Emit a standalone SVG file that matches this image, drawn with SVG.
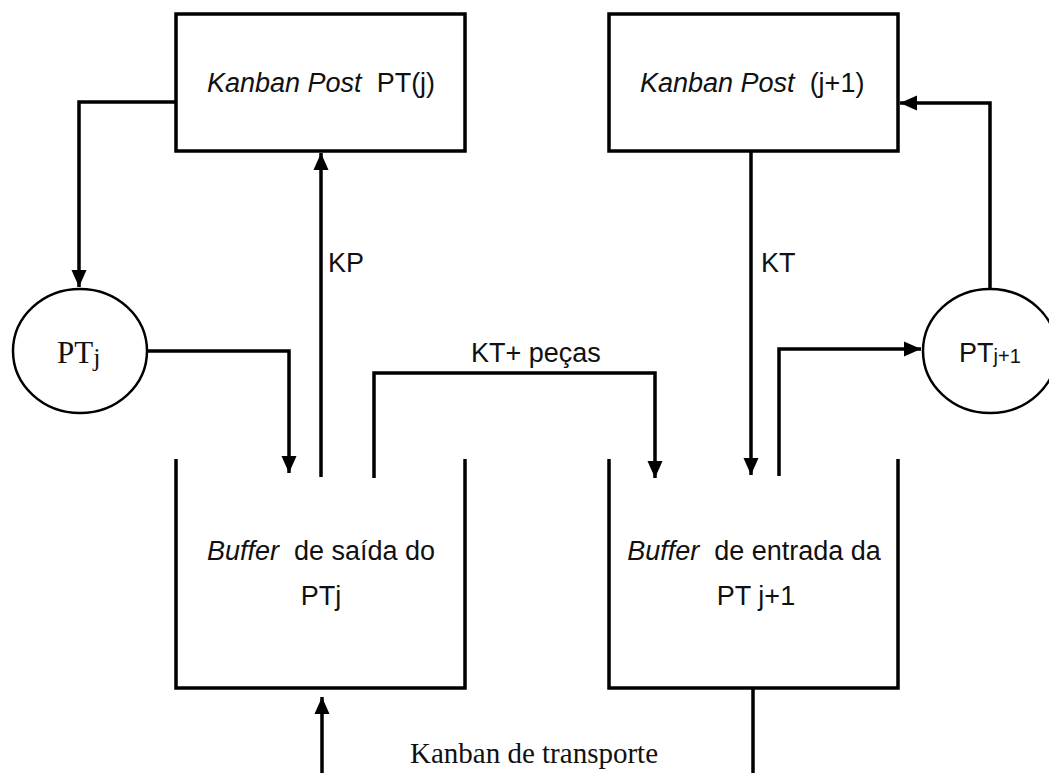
<svg xmlns="http://www.w3.org/2000/svg" width="1049" height="773" viewBox="0 0 1049 773">
  <style>
    .box { fill: #fff; stroke: #000; stroke-width: 3.5; }
    .circ { fill: #fff; stroke: #000; stroke-width: 2.5; }
    .wall { fill: none; stroke: #000; stroke-width: 3.5; stroke-linejoin: miter; }
    .link { fill: none; stroke: #000; stroke-width: 3.5; }
    .sans { font-family: "Liberation Sans", Arial, sans-serif; font-size: 27px; fill: #111; white-space: pre; }
    .serif { font-family: "Liberation Serif", "Times New Roman", serif; fill: #111; }
    .it { font-style: italic; }
  </style>
  <defs>
    <marker id="arrow" markerUnits="userSpaceOnUse" markerWidth="18" markerHeight="18" viewBox="0 0 18 18" refX="17" refY="9" orient="auto">
      <path d="M0,1.5 L17,9 L0,16.5 Z" fill="#000"/>
    </marker>
  </defs>
  <rect width="1049" height="773" fill="#fff"/>

  <!-- Kanban post of workstation j -->
  <g id="post-j">
    <rect class="box" x="176" y="14" width="289" height="137"/>
    <text class="sans" x="207" y="92" xml:space="preserve"><tspan class="it">Kanban Post</tspan>  PT(j)</text>
  </g>

  <!-- Kanban post of workstation j+1 -->
  <g id="post-j1">
    <rect class="box" x="609" y="14" width="289" height="137"/>
    <text class="sans" x="640" y="92" xml:space="preserve"><tspan class="it">Kanban Post</tspan>  (j+1)</text>
  </g>

  <!-- Workstation j -->
  <g id="pt-j">
    <ellipse class="circ" cx="80" cy="351" rx="67" ry="62"/>
    <text class="serif" x="57" y="363" font-size="31">PT<tspan font-size="26" dy="3">j</tspan></text>
  </g>

  <!-- Workstation j+1 -->
  <g id="pt-j1">
    <ellipse class="circ" cx="990" cy="351" rx="67" ry="62"/>
    <text class="sans" x="959" y="362">PT<tspan font-size="20" dy="1">j+1</tspan></text>
  </g>

  <!-- Output buffer of workstation j -->
  <g id="buffer-out">
    <path class="wall" d="M176,459 V688 H465 V459"/>
    <text class="sans" x="321" y="560" text-anchor="middle" font-size="28" xml:space="preserve"><tspan class="it">Buffer</tspan>  de saída do</text>
    <text class="sans" x="321" y="605" text-anchor="middle" font-size="28">PTj</text>
  </g>

  <!-- Input buffer of workstation j+1 -->
  <g id="buffer-in">
    <path class="wall" d="M609,459 V688 H898 V459"/>
    <text class="sans" x="754" y="560" text-anchor="middle" font-size="28" xml:space="preserve"><tspan class="it">Buffer</tspan>  de entrada da</text>
    <text class="sans" x="756" y="605" text-anchor="middle" font-size="28">PT j+1</text>
  </g>

  <!-- Connectors -->
  <g id="connectors">
    <path class="link" d="M176,102 H79 V287" marker-end="url(#arrow)"/>
    <path class="link" d="M147,351 H289 V473" marker-end="url(#arrow)"/>
    <path class="link" d="M321,477 V153" marker-end="url(#arrow)"/>
    <path class="link" d="M374,478 V373 H655 V478" marker-end="url(#arrow)"/>
    <path class="link" d="M751,151 V475" marker-end="url(#arrow)"/>
    <path class="link" d="M779,476 V349 H921" marker-end="url(#arrow)"/>
    <path class="link" d="M990,289 V103 H900" marker-end="url(#arrow)"/>
    <path class="link" d="M322,773 V697" marker-end="url(#arrow)"/>
    <path class="link" d="M753,688 V773"/>
    <text class="sans" x="328" y="272">KP</text>
    <text class="sans" x="761" y="272">KT</text>
    <text class="sans" x="471" y="362">KT+ peças</text>
    <text class="serif" x="410" y="763" font-size="29">Kanban de transporte</text>
  </g>
</svg>
